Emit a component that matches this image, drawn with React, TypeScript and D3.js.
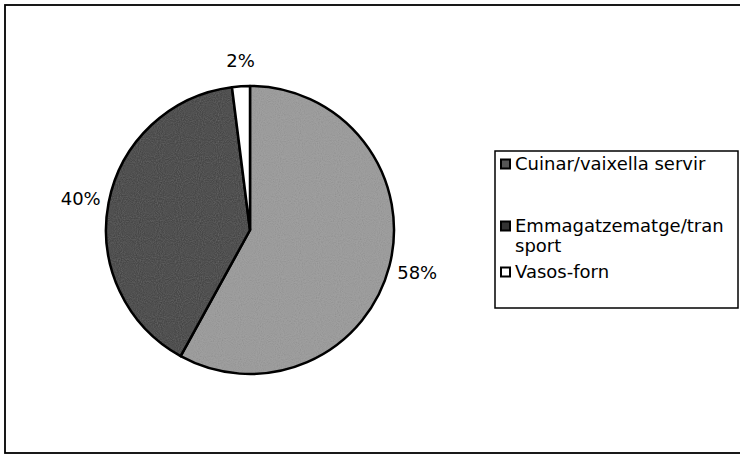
import React from 'react';
import * as d3 from 'd3';

const categories = ['Cuinar/vaixella servir', 'Emmagatzematge/transport', 'Vasos-forn'];
const values = [58, 40, 2];
const percentLabels = ['58%', '40%', '2%'];
// legend text as it wraps in the original
const legendLines = [['Cuinar/vaixella servir'], ['Emmagatzematge/tran', 'sport'], ['Vasos-forn']];
const fills = ['url(#speckle-light)', 'url(#speckle-dark)', '#ffffff'];

const W = 740;
const H = 455;
const font = '"DejaVu Sans", Verdana, sans-serif';

const App = () => {
  const cx = 250;
  const cy = 230;
  const r = 144;

  const pie = d3.pie<number>().sort(null).value((d) => d)(values);
  const arc = d3.arc<d3.PieArcDatum<number>>().innerRadius(0).outerRadius(r);

  // legend layout
  const lg = { x: 495, y: 151, w: 243, h: 157 };
  const rowY = [164, 226, 272];
  const lineH = 20;

  return (
    <div style={{ background: '#fff', width: W, height: H, overflow: 'hidden' }}>
      <style>{'html,body{margin:0;padding:0;overflow:hidden;background:#fff}'}</style>
      <svg width={W} height={H} style={{ display: 'block', fontFamily: font }}>
        <defs>
          <filter id="noise" x="0" y="0" width="100%" height="100%">
            <feTurbulence type="fractalNoise" baseFrequency="0.95" numOctaves="1" seed="4" />
            <feColorMatrix type="saturate" values="0" />
          </filter>
          <pattern id="speckle-light" patternUnits="userSpaceOnUse" width="120" height="120">
            <rect width="120" height="120" fill="#a4a4a4" />
            <rect width="120" height="120" filter="url(#noise)" opacity="0.4" style={{ mixBlendMode: 'multiply' }} />
          </pattern>
          <pattern id="speckle-dark" patternUnits="userSpaceOnUse" width="120" height="120">
            <rect width="120" height="120" fill="#3a3a3a" />
            <rect width="120" height="120" filter="url(#noise)" opacity="0.3" style={{ mixBlendMode: 'screen' }} />
          </pattern>
        </defs>

        {/* outer frame, right edge runs off the picture */}
        <rect x={5} y={5} width={W} height={448} fill="none" stroke="#000" strokeWidth={1.8} />

        <g transform={`translate(${cx},${cy})`}>
          {pie.map((d, i) => (
            <path key={categories[i]} d={arc(d) || ''} fill={fills[i]} stroke="#000" strokeWidth={2.5} strokeLinejoin="round" />
          ))}
          {pie.map((d, i) => {
            const mid = (d.startAngle + d.endAngle) / 2;
            const dx = Math.sin(mid);
            const dy = -Math.cos(mid);
            const x = dx * (r + 8);
            const y = dy * (r + 8) + dy * 18;
            const anchor = dx > 0.3 ? 'start' : dx < -0.3 ? 'end' : 'middle';
            return (
              <text key={'l' + i} x={x} y={y} dy="0.36em" textAnchor={anchor} fontSize={18} fill="#000">
                {percentLabels[i]}
              </text>
            );
          })}
        </g>

        {/* legend */}
        <rect x={lg.x} y={lg.y} width={lg.w} height={lg.h} fill="#fff" stroke="#000" strokeWidth={1.5} />
        {legendLines.map((lines, i) => (
          <g key={'lg' + i}>
            <rect x={501} y={rowY[i] - 4.5} width={9} height={9} fill={i === 2 ? '#fff' : i === 0 ? '#555' : '#333'} stroke="#000" strokeWidth={2} />
            <text x={515} y={rowY[i]} fontSize={18} fill="#000">
              {lines.map((t, j) => (
                <tspan key={j} x={515} dy={j === 0 ? '0.36em' : lineH}>
                  {t}
                </tspan>
              ))}
            </text>
          </g>
        ))}
      </svg>
    </div>
  );
};

export default App;
